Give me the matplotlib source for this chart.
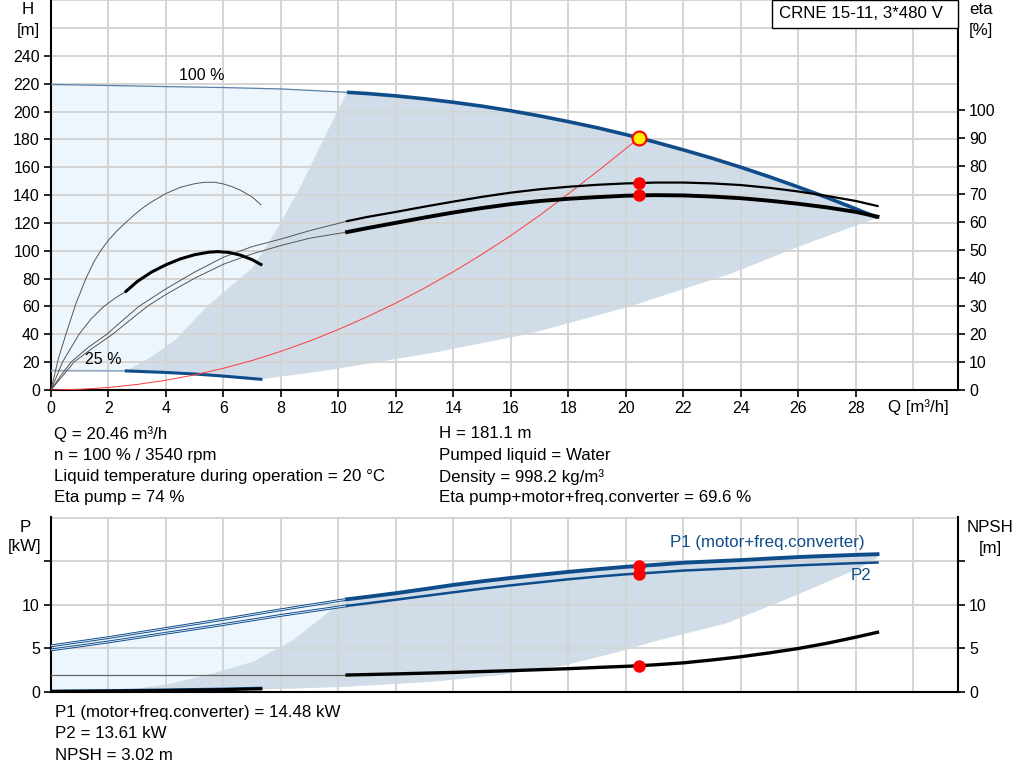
import numpy as np
import matplotlib.pyplot as plt
from matplotlib.patches import Rectangle

plt.rcParams['font.family'] = ['Liberation Sans', 'DejaVu Sans']
plt.rcParams['font.size'] = 12.2

# colours
BLUE = '#0f4c8a'
LIGHT = '#eef6fd'
DARK = '#d0dce8'
GRID = '#d4d4d4'
TS = 11.5  # tick label size

# --- Q-H, 100 % speed (thin part + thick part)
q_h100_thin = [0, 2, 4, 6, 8, 10.3]
h100_thin = [219.5, 218.8, 218, 217.3, 216.3, 213.9]
q_h100 = [10.3, 11, 12, 13, 14, 15, 16, 17, 18, 19, 20, 20.46, 21, 22, 23, 24, 25, 26, 27, 28, 28.75]
h100 = [213.9, 213, 211.3, 209.2, 206.7, 203.9, 200.6, 196.9, 192.8, 188.4, 183.5, 181.1,
        178.2, 172.5, 166.5, 160, 153.1, 145.8, 138.2, 130.1, 123.8]

# --- Q-H, 25 % speed
q_h25_thin = [0, 2.62]
h25_thin = [13.9, 13.7]
q_h25 = [2.62, 4, 5, 6, 7.3]
h25 = [13.7, 12.6, 11.5, 10, 7.7]

# --- operating range borders
q_left = [2.62, 3.5, 4.3, 5.45, 7.0, 7.85, 8.7, 9.5, 10.3]
h_left = [13.7, 24, 35.5, 60.5, 87.5, 115, 147, 181, 213.9]
q_low = [7.3, 9.7, 13.2, 16.7, 20.1, 23.7, 26, 28.75]
h_low = [7.7, 14.4, 26.4, 40.7, 59.8, 84, 103, 123.8]

# --- system curve
q_sys = [0, 1, 2, 3, 4, 5, 6, 7, 8, 9, 10, 11, 12, 13, 14, 15, 16, 17, 18, 19, 20, 20.46]
h_sys = [0, 0.5, 1.8, 4.0, 7.0, 10.9, 15.6, 21.2, 27.8, 35.2, 43.5, 52.6, 62.5, 73.3,
         85, 97.6, 111, 125.5, 141, 157, 173.5, 181.1]

# --- efficiencies [%]
q_etap_thin = [0, 0.35, 0.7, 1.3, 1.95, 2.5, 3.07, 4, 5, 6, 7, 8, 9, 10.3]
etap_thin = [0, 5.3, 10, 15.3, 20, 25, 30, 36.2, 42.2, 47.5, 51.3, 54, 57, 60.4]
q_etap = [10.3, 11, 12, 13, 14, 15, 16, 17, 18, 19, 20, 20.46, 21, 22, 23, 24, 25, 26, 27, 28, 28.75]
etap = [60.4, 61.9, 63.7, 65.6, 67.4, 69.1, 70.6, 71.8, 72.7, 73.4, 73.9, 74.0, 74.2, 74.2,
        73.9, 73.3, 72.3, 71.0, 69.4, 67.6, 65.8]
q_etat_thin = [0, 0.4, 0.8, 1.45, 2.15, 2.75, 3.36, 4, 5, 6, 7, 8, 9, 10.3]
etat_thin = [0, 5, 10, 15, 20, 25, 30, 34.2, 40, 45, 48.7, 51.7, 54.3, 56.5]
q_etat = [10.3, 11, 12, 13, 14, 15, 16, 17, 18, 19, 20, 20.46, 21, 22, 23, 24, 25, 26, 27, 28, 28.75]
etat = [56.5, 57.9, 59.8, 61.7, 63.5, 65.1, 66.5, 67.6, 68.4, 69.0, 69.5, 69.6, 69.7, 69.6,
        69.2, 68.6, 67.7, 66.6, 65.3, 63.7, 62]
q_etap25 = [0, 0.25, 0.52, 0.87, 1.22, 1.5, 1.74, 2.0, 2.3, 2.61, 2.9, 3.2, 3.5, 4.0, 4.5,
            5.0, 5.35, 5.7, 6.0, 6.28, 6.6, 7.0, 7.3]
etap25 = [0, 11, 20, 31, 40, 46, 50, 53.6, 57, 60, 62.7, 65.2, 67.3, 70.3, 72.5,
          73.8, 74.3, 74.3, 73.7, 72.8, 71.4, 69, 66.3]
q_etat25_thin = [0, 0.4, 0.98, 1.4, 1.85, 2.25, 2.61]
etat25_thin = [0, 10, 20, 25.5, 30, 33, 35.3]
q_etat25 = [2.61, 3.0, 3.5, 4.0, 4.5, 5.0, 5.5, 5.8, 6.2, 6.6, 7.0, 7.3]
etat25 = [35.3, 38.8, 42.2, 44.8, 46.9, 48.4, 49.3, 49.5, 49.2, 48.2, 46.6, 44.9]

# --- power & NPSH
q_p_thin = [0, 2, 4, 6, 8, 10.3]
p1_thin = [5.3, 6.25, 7.3, 8.35, 9.45, 10.65]
p2_thin = [4.83, 5.75, 6.75, 7.75, 8.8, 9.9]
q_p = [10.3, 11, 12, 13, 14, 15, 16, 17, 18, 19, 20, 20.46, 21, 22, 23, 24, 25, 26, 27, 28, 28.75]
p1 = [10.65, 10.93, 11.35, 11.82, 12.3, 12.72, 13.1, 13.46, 13.8, 14.1, 14.38, 14.48,
      14.6, 14.85, 15.0, 15.15, 15.33, 15.5, 15.63, 15.75, 15.83]
p2 = [9.9, 10.18, 10.6, 11.03, 11.45, 11.87, 12.25, 12.6, 12.95, 13.25, 13.52, 13.61,
      13.72, 13.95, 14.1, 14.25, 14.4, 14.55, 14.68, 14.8, 14.87]
q_p25 = [0, 2, 4, 6, 7.3]
p1_25 = [0.12, 0.17, 0.25, 0.35, 0.45]
npsh25 = [0.05, 0.1, 0.17, 0.27, 0.36]
q_npsh_thin = [0, 10.3]
npsh_thin = [1.95, 1.95]
q_npsh = [10.3, 12, 14, 16, 18, 19, 20, 20.46, 21, 22, 23, 24, 25, 26, 27, 28, 28.75]
npsh = [1.95, 2.08, 2.25, 2.45, 2.68, 2.82, 2.95, 3.02, 3.12, 3.35, 3.68, 4.05, 4.5,
        5.0, 5.6, 6.3, 6.86]
q_pleft = [2.63, 4.14, 5.65, 7.04, 8.43, 9.82, 10.3]
p_left = [0.23, 0.92, 2.15, 3.49, 5.98, 9.6, 10.65]
q_plow = [7.3, 8.66, 10.3, 13.3, 15.6, 17.9, 19.56, 21.2, 23.5, 25.8, 28.1, 28.75]
p_low = [0.3, 0.42, 0.61, 1.19, 1.95, 3.1, 4.45, 6.0, 7.9, 10.95, 14.2, 15.4]

# duty point
q_duty = 20.46
h_duty = 181.1
etap_duty = 74
etat_duty = 69.6
p1_duty = 14.48
p2_duty = 13.61
npsh_duty = 3.02

q_ticks = np.arange(0, 30, 2)
W, H = 1024, 781

fig = plt.figure(figsize=(W / 100, H / 100), dpi=100)
ax = fig.add_axes([51 / W, 1 - 390 / H, 907 / W, 390 / H])
ax2 = ax.twinx()

# fills
ax.fill(q_h100_thin + q_h100 + q_low[::-1] + q_h25[::-1] + q_h25_thin[::-1],
        h100_thin + h100 + h_low[::-1] + h25[::-1] + h25_thin[::-1],
        color=LIGHT, lw=0, zorder=0.5)
ax.fill(q_h100 + q_low[::-1] + q_h25[::-1] + q_left,
        h100 + h_low[::-1] + h25[::-1] + h_left,
        color=DARK, lw=0, zorder=0.6)

ax.set_xlim(0, 31.55)
ax.set_ylim(0, 280.2)
ax2.set_ylim(0, 139.5)
ax.set_xticks(q_ticks)
ax.set_xticks([30], minor=True)
ax.set_yticks(np.arange(0, 241, 20))
ax.set_yticks([260, 280], minor=True)
ax2.set_yticks(np.arange(0, 101, 10))
ax.grid(True, which='both', color=GRID, lw=1.4)
ax.set_axisbelow('line')
ax.tick_params(which='minor', length=0)
for a in (ax, ax2):
    a.tick_params(which='major', direction='out', length=5, width=1.2, pad=3, labelsize=TS)
    for s in a.spines.values():
        s.set_linewidth(1.5)
ax.spines['top'].set_visible(False)
ax.spines['right'].set_visible(False)
ax2.spines['top'].set_visible(False)
ax2.spines['left'].set_visible(False)
ax2.spines['bottom'].set_visible(False)

# H curves
ax.plot(q_h100_thin, h100_thin, color='#5b7fa6', lw=0.9, zorder=3)
ax.plot(q_h100, h100, color=BLUE, lw=2.6, zorder=3, solid_capstyle='butt')
ax.plot(q_h25_thin, h25_thin, color='#93a8c0', lw=1.2, zorder=3)
ax.plot(q_h25, h25, color=BLUE, lw=2.2, zorder=3)
ax.plot(q_sys, h_sys, color='#ff3b3b', lw=0.7, zorder=3)
ax.plot([q_duty], [h_duty], 'o', ms=10, mfc='#ffee00', mec='red', mew=1.5, zorder=6)

# efficiency curves
ax2.plot(q_etap_thin, etap_thin, color='#555555', lw=0.7)
ax2.plot(q_etap, etap, color='black', lw=1.6)
ax2.plot(q_etat_thin, etat_thin, color='#555555', lw=0.7)
ax2.plot(q_etat, etat, color='black', lw=2.8)
ax2.plot(q_etap25, etap25, color='#555555', lw=0.7)
ax2.plot(q_etat25_thin, etat25_thin, color='#555555', lw=0.7)
ax2.plot(q_etat25, etat25, color='black', lw=2.2)
ax2.plot([q_duty, q_duty], [etap_duty, etat_duty], 'o', ms=8, color='red', zorder=6)

ax.text(5.23, 226.3, '100 %', ha='center', va='center', fontsize=TS)
ax.text(1.83, 21.6, '25 %', ha='center', va='center', fontsize=TS)
ax.text(30.17, -0.044, 'Q [m³/h]', transform=ax.get_xaxis_transform(),
        ha='center', va='center')

# type box
fig.patches.append(Rectangle((772 / W, 1 - 28 / H), 186 / W, 28 / H, transform=fig.transFigure,
                             fc='white', ec='black', lw=1, zorder=5))
fig.text(779 / W, 1 - 13 / H, 'CRNE 15-11, 3*480 V', va='center', zorder=6)

fig.text(28 / W, 1 - 9 / H, 'H', ha='center', va='center')
fig.text(28 / W, 1 - 30 / H, '[m]', ha='center', va='center')
fig.text(981 / W, 1 - 10 / H, 'eta', ha='center', va='center')
fig.text(981 / W, 1 - 30 / H, '[%]', ha='center', va='center')

# info text
left_info = ['Q = 20.46 m³/h', 'n = 100 % / 3540 rpm',
             'Liquid temperature during operation = 20 °C', 'Eta pump = 74 %']
right_info = ['H = 181.1 m', 'Pumped liquid = Water', 'Density = 998.2 kg/m³',
              'Eta pump+motor+freq.converter = 69.6 %']
for i, (l, r) in enumerate(zip(left_info, right_info)):
    y = 1 - (434 + 21.3 * i) / H
    fig.text(54 / W, y, l, va='center')
    fig.text(439 / W, y, r, va='center')

# ---- power / NPSH chart
bx = fig.add_axes([51 / W, 1 - 692 / H, 907 / W, 175 / H])
bx2 = bx.twinx()
bx.fill(q_p_thin + q_p + q_plow[::-1] + q_p25[::-1],
        p1_thin + p1 + p_low[::-1] + p1_25[::-1],
        color=LIGHT, lw=0, zorder=0.5)
bx.fill(q_p + q_plow[::-1] + q_p25[::-1][:-1] + q_pleft,
        p1 + p_low[::-1] + p1_25[::-1][:-1] + p_left,
        color=DARK, lw=0, zorder=0.6)
bx.set_xlim(0, 31.55)
bx.set_ylim(0, 20.1)
bx2.set_ylim(0, 20.1)
bx.set_xticks(np.arange(0, 31, 2))
bx.set_yticks([0, 5, 10, 15])
bx.set_yticks([20], minor=True)
bx.set_yticklabels(['0', '5', '10', ''])
bx2.set_yticks([0, 5, 10, 15])
bx2.set_yticklabels(['0', '5', '10', ''])
bx.grid(True, which='both', color=GRID, lw=1.4)
bx.set_axisbelow('line')
bx.tick_params(axis='x', length=0, labelbottom=False)
bx.tick_params(which='minor', length=0)
for a in (bx, bx2):
    a.tick_params(axis='y', direction='out', length=5, width=1.2, pad=3, labelsize=TS)
    for s in a.spines.values():
        s.set_linewidth(1.5)
bx.spines['top'].set_visible(False)
bx.spines['right'].set_visible(False)
bx2.spines['top'].set_visible(False)
bx2.spines['left'].set_visible(False)
bx2.spines['bottom'].set_visible(False)

for pt in (p1_thin, p2_thin):
    bx.plot(q_p_thin, pt, color=BLUE, lw=2.0, zorder=3)
    bx.plot(q_p_thin, pt, color=LIGHT, lw=0.6, zorder=3)
bx.plot(q_p, p1, color=BLUE, lw=2.8, zorder=3)
bx.plot(q_p, p2, color=BLUE, lw=1.8, zorder=3)
bx.plot(q_p25, p1_25, color=BLUE, lw=2.0, zorder=3)
bx.plot([q_duty, q_duty], [p1_duty, p2_duty], 'o', ms=8, color='red', zorder=6)
bx2.plot(q_npsh_thin, npsh_thin, color='#666666', lw=0.9)
bx2.plot(q_npsh, npsh, color='black', lw=2.4)
bx2.plot(q_p25, npsh25, color='black', lw=2.2)
bx2.plot([q_duty], [npsh_duty], 'o', ms=8, color='red', zorder=6)

fig.text(767 / W, 1 - 543 / H, 'P1 (motor+freq.converter)', ha='center', va='center', color=BLUE)
fig.text(861 / W, 1 - 576 / H, 'P2', ha='center', va='center', color=BLUE)
fig.text(25 / W, 1 - 527 / H, 'P', ha='center', va='center')
fig.text(25 / W, 1 - 547 / H, '[kW]', ha='center', va='center')
fig.text(990 / W, 1 - 527 / H, 'NPSH', ha='center', va='center')
fig.text(990 / W, 1 - 548 / H, '[m]', ha='center', va='center')

bottom_info = ['P1 (motor+freq.converter) = 14.48 kW', 'P2 = 13.61 kW', 'NPSH = 3.02 m']
for i, t in enumerate(bottom_info):
    fig.text(55 / W, 1 - (713 + 21 * i) / H, t, va='center')

fig.savefig('out.png', dpi=100)
